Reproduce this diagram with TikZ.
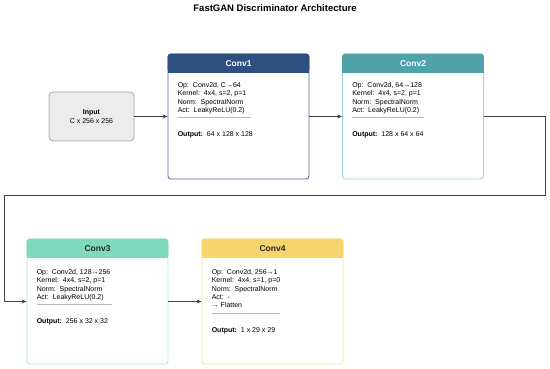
\documentclass[tikz,border=0pt]{standalone}
\usepackage{fontspec}
\setmainfont{Liberation Sans}
\usepackage{xcolor}
\usetikzlibrary{arrows.meta,calc,positioning}

\definecolor{convone}{HTML}{2D5080}
\definecolor{convonebd}{HTML}{4A6C99}
\definecolor{convtwo}{HTML}{4DA3A8}
\definecolor{convtwobd}{HTML}{9ED4D6}
\definecolor{convthree}{HTML}{7ED9BD}
\definecolor{convthreebd}{HTML}{A5E6D2}
\definecolor{convfour}{HTML}{F6D56E}
\definecolor{convfourbd}{HTML}{F8E3A0}

\begin{document}
\begin{tikzpicture}[x=1pt,y=-1pt,
  block/.style={draw, rounded corners=3pt, fill=white, line width=0.8pt,
    minimum width=141pt, minimum height=125pt, inner sep=0pt},
  head/.style={font=\fontsize{8.5}{10}\selectfont\bfseries},
  info/.style={align=left, inner sep=0pt, anchor=north west,
    font=\fontsize{7}{8.4}\selectfont},
  sepline/.style={draw=gray!55, line width=0.8pt},
  flow/.style={draw=black!75, line width=0.8pt, -{Stealth[length=5pt,width=4pt]}}]
\useasboundingbox (0,0) rectangle (550,369);

% Title
\node[font=\fontsize{9.5}{11}\selectfont\bfseries] (title) at (275,8)
  {FastGAN Discriminator Architecture};

% Input
\node[draw=gray!70, fill=gray!15, rounded corners=4pt, line width=0.8pt,
  minimum width=85pt, minimum height=49pt, align=center,
  font=\fontsize{7}{8.4}\selectfont] (input) at (91.5,116.5)
  {\textbf{Input}\\C x 256 x 256};

% The four blocks
\node[block, draw=convonebd] (conv1) at (238.5,116.5) {};
\node[block, draw=convtwobd] (conv2) at (413,116.5) {};
\node[block, draw=convthreebd] (conv3) at (97.5,301.5) {};
\node[block, draw=convfourbd] (conv4) at (272.5,301.5) {};

% Headers
\fill[convone, rounded corners=3pt] (conv1.north west) rectangle ($(conv1.north east)+(0,19)$);
\fill[convone] ($(conv1.north west)+(0,8)$) rectangle ($(conv1.north east)+(0,19)$);
\node[head, text=white] (conv1-title) at ($(conv1.north)+(0,10)$) {Conv1};

\fill[convtwo, rounded corners=3pt] (conv2.north west) rectangle ($(conv2.north east)+(0,19)$);
\fill[convtwo] ($(conv2.north west)+(0,8)$) rectangle ($(conv2.north east)+(0,19)$);
\node[head, text=white] (conv2-title) at ($(conv2.north)+(0,10)$) {Conv2};

\fill[convthree, rounded corners=3pt] (conv3.north west) rectangle ($(conv3.north east)+(0,19)$);
\fill[convthree] ($(conv3.north west)+(0,8)$) rectangle ($(conv3.north east)+(0,19)$);
\node[head, text=black!85] (conv3-title) at ($(conv3.north)+(0,10)$) {Conv3};

\fill[convfour, rounded corners=3pt] (conv4.north west) rectangle ($(conv4.north east)+(0,19)$);
\fill[convfour] ($(conv4.north west)+(0,8)$) rectangle ($(conv4.north east)+(0,19)$);
\node[head, text=black!85] (conv4-title) at ($(conv4.north)+(0,10)$) {Conv4};

% Layer details
\node[info] (conv1-info) at ($(conv1.north west)+(10,28.5)$)
  {Op:\ \ Conv2d, C→64\\Kernel:\ \ 4x4, s=2, p=1\\Norm:\ \ SpectralNorm\\Act:\ \ LeakyReLU(0.2)};
\draw[sepline] ([yshift=-3.5pt]conv1-info.south west) -- ([xshift=5pt,yshift=-3.5pt]conv1-info.south east);
\node[info] (conv1-out) at ($(conv1-info.south west)+(0,17)$) {\textbf{Output:}\ \ 64 x 128 x 128};

\node[info] (conv2-info) at ($(conv2.north west)+(10,28.5)$)
  {Op:\ \ Conv2d, 64→128\\Kernel:\ \ 4x4, s=2, p=1\\Norm:\ \ SpectralNorm\\Act:\ \ LeakyReLU(0.2)};
\draw[sepline] ([yshift=-3.5pt]conv2-info.south west) -- ([xshift=2pt,yshift=-3.5pt]conv2-info.south east);
\node[info] (conv2-out) at ($(conv2-info.south west)+(0,17)$) {\textbf{Output:}\ \ 128 x 64 x 64};

\node[info] (conv3-info) at ($(conv3.north west)+(10,30.5)$)
  {Op:\ \ Conv2d, 128→256\\Kernel:\ \ 4x4, s=2, p=1\\Norm:\ \ SpectralNorm\\Act:\ \ LeakyReLU(0.2)};
\draw[sepline] ([yshift=-3.5pt]conv3-info.south west) -- ([xshift=1pt,yshift=-3.5pt]conv3-info.south east);
\node[info] (conv3-out) at ($(conv3-info.south west)+(0,17)$) {\textbf{Output:}\ \ 256 x 32 x 32};

\node[info] (conv4-info) at ($(conv4.north west)+(10,30.5)$)
  {Op:\ \ Conv2d, 256→1\\Kernel:\ \ 4x4, s=1, p=0\\Norm:\ \ SpectralNorm\\Act:\ \ -\\→ Flatten};
\draw[sepline] ([yshift=-5pt]conv4-info.south west) -- ([yshift=-5pt]conv4-info.south east);
\node[info] (conv4-out) at ($(conv4-info.south west)+(0,19)$) {\textbf{Output:}\ \ 1 x 29 x 29};

% Connectors
\coordinate (turn-right) at (545,195);
\coordinate (turn-left) at (4,195);
\draw[flow] (input) -- (conv1);
\draw[flow] (conv1) -- (conv2);
\draw[flow] (conv2.east) -| (turn-right) -- (turn-left) |- (conv3.west);
\draw[flow] (conv3) -- (conv4);
\end{tikzpicture}
\end{document}
